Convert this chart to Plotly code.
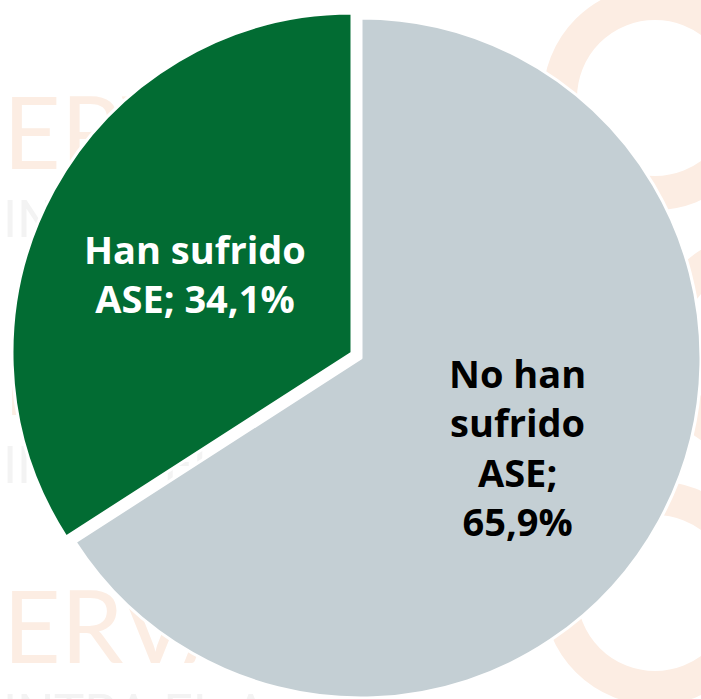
import plotly.graph_objects as go

W, H = 701, 699

labels = ["No han sufrido ASE", "Han sufrido ASE"]
label_lines = [["No han", "sufrido", "ASE;"], ["Han sufrido", "ASE;"]]
values = [65.9, 34.1]
colors = ["#c4cfd4", "#026c33"]
text_colors = ["#000000", "#ffffff"]

WATERMARK = "#fcede3"
WATERMARK_GREY = "#f3f3f3"


def px_dom(cx, cy, r):
    # pixel centre/radius -> paper domain
    return dict(x=[(cx - r) / W, (cx + r) / W],
                y=[1 - (cy + r) / H, 1 - (cy - r) / H])


def fmt(v):
    return f"{v:.1f}".replace(".", ",") + "%"


# grey slice sits in place, green slice is pulled out up-left
pie_geom = [dict(cx=361, cy=358, r=340), dict(cx=352, cy=353, r=340)]

fig = go.Figure()
for i in range(len(values)):
    col = ["rgba(0,0,0,0)"] * len(values)
    col[i] = colors[i]
    lw = [0] * len(values)
    lw[i] = 3
    g = pie_geom[i]
    fig.add_trace(go.Pie(
        labels=labels, values=values, sort=False, direction="clockwise",
        rotation=0, textinfo="none", hoverinfo="label+percent",
        marker=dict(colors=col, line=dict(color="white", width=lw)),
        domain=px_dom(g["cx"], g["cy"], g["r"]), showlegend=False,
    ))

# slice labels
label_pos = [(517, 447), (195, 273)]
for i, (x, y) in enumerate(label_pos):
    lines = label_lines[i][:]
    lines[-1] = lines[-1] + (" " if i == 1 else "<br>") + fmt(values[i])
    fig.add_annotation(
        x=x / W, y=1 - y / H, xref="paper", yref="paper",
        xanchor="center", yanchor="middle",
        text="<br>".join(lines), showarrow=False,
        font=dict(family="Open Sans", size=38, color=text_colors[i], weight="bold"),
        align="center",
    )

# faint background watermark (mostly hidden behind the pie)
shapes = []
for top in [92, 338, 586]:
    shapes.append(dict(
        type="rect", xref="paper", yref="paper", layer="below",
        x0=0, x1=0.9, y0=1 - (top + 74) / H, y1=1 - top / H,
        line=dict(width=0), fillcolor="rgba(0,0,0,0)",
        label=dict(text="ERVA", textposition="middle left", padding=0,
                   font=dict(family="Lato", size=100, color=WATERMARK)),
    ))
    shapes.append(dict(
        type="rect", xref="paper", yref="paper", layer="below",
        x0=0, x1=0.9, y0=1 - (top + 146) / H, y1=1 - (top + 100) / H,
        line=dict(width=0), fillcolor="rgba(0,0,0,0)",
        label=dict(text="INTRA EL A", textposition="middle left", padding=0,
                   font=dict(family="Roboto", size=52, color=WATERMARK_GREY)),
    ))
for cx, cy in [(655, 98), (760, 345), (655, 593)]:
    r = 95
    shapes.append(dict(
        type="circle", xref="paper", yref="paper", layer="below",
        x0=(cx - r) / W, x1=(cx + r) / W, y0=1 - (cy + r) / H, y1=1 - (cy - r) / H,
        line=dict(color=WATERMARK, width=34),
    ))

fig.update_layout(
    width=W, height=H,
    margin=dict(l=0, r=0, t=0, b=0),
    paper_bgcolor="white", plot_bgcolor="white",
    shapes=shapes,
)

fig.write_html("out.html", config={"displayModeBar": False},
               post_script="document.body.style.margin='0';")
